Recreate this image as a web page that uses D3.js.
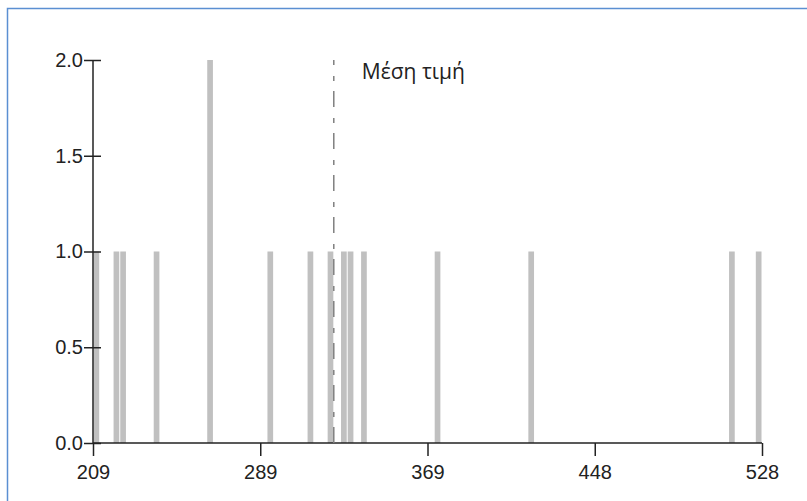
<!DOCTYPE html>
<html>
<head>
<meta charset="utf-8">
<script src="https://cdn.jsdelivr.net/npm/d3@7"></script>
<style>
  html, body { margin: 0; padding: 0; background: #fff; }
  svg { display: block; }
  .axis text { font-family: Arial, "Liberation Sans", sans-serif; font-size: 20px; fill: #222; }
  .axis path, .axis line { stroke: #222; stroke-width: 1.5; }
</style>
</head>
<body>
<svg id="chart" width="807" height="501"></svg>
<script>
// Observed values
const values = [209, 220, 224, 240, 264, 265, 294, 313, 322, 328, 332, 338, 373, 418, 513, 528];
const binCount = 100;
const yTicks = [0, 0.5, 1, 1.5, 2];
const meanLabel = "Μέση τιμή";

const W = 807, H = 501;
const margin = { left: 93, right: 45, top: 60, bottom: 58 };

const svg = d3.select("#chart");

// Frame
svg.append("rect")
  .attr("x", 7.5).attr("y", 8.5)
  .attr("width", 900).attr("height", 600)
  .attr("fill", "none")
  .attr("stroke", "#5b8fd2")
  .attr("stroke-width", 1.5);

const lo = d3.min(values), hi = d3.max(values);
const x = d3.scaleLinear().domain([lo, hi]).range([margin.left, W - margin.right]);
const y = d3.scaleLinear().domain([0, 2]).range([H - margin.bottom, margin.top]);

const step = (hi - lo) / binCount;
const bins = d3.bin()
  .domain([lo, hi])
  .thresholds(d3.range(1, binCount).map(i => lo + i * step))(values);

// Bars
svg.append("g")
  .selectAll("rect")
  .data(bins.filter(b => b.length > 0))
  .join("rect")
  .attr("x", d => x(d.x0) + 0.5)
  .attr("width", d => Math.max(0, x(d.x1) - x(d.x0) - 1))
  .attr("y", d => y(d.length))
  .attr("height", d => y(0) - y(d.length))
  .attr("fill", "#c0c0c0");

// X axis: five evenly spaced ticks across the data range
const xTicks = d3.range(5).map(i => lo + (hi - lo) * i / 4);
const xAxis = svg.append("g")
  .attr("class", "axis")
  .attr("transform", `translate(0,${y(0)})`)
  .call(d3.axisBottom(x).tickValues(xTicks).tickSize(13).tickPadding(9)
    .tickFormat(d => Math.round(d)));
xAxis.select(".domain").attr("d", `M${x(lo)},0H${x(hi)}`);

// Y axis with ticks crossing the spine
const yAxis = svg.append("g")
  .attr("class", "axis")
  .attr("transform", `translate(${x(lo)},0)`)
  .call(d3.axisLeft(y).tickValues(yTicks).tickSize(9).tickPadding(1)
    .tickFormat(d3.format(".1f")));
yAxis.select(".domain").attr("d", `M0,${y(0)}V${y(2)}`);
yAxis.selectAll(".tick line").attr("x1", 8);

// Mean marker
const mean = d3.mean(values);
svg.append("line")
  .attr("x1", x(mean)).attr("x2", x(mean))
  .attr("y1", y(0)).attr("y2", y(2))
  .attr("stroke", "#808080")
  .attr("stroke-width", 1.5)
  .attr("stroke-dasharray", "16,10,5,11");

svg.append("text")
  .attr("x", x(mean) + 28)
  .attr("y", 79)
  .attr("font-family", "'Open Sans', 'Noto Sans', sans-serif")
  .attr("font-size", 21)
  .attr("fill", "#222")
  .text(meanLabel);
</script>
</body>
</html>
